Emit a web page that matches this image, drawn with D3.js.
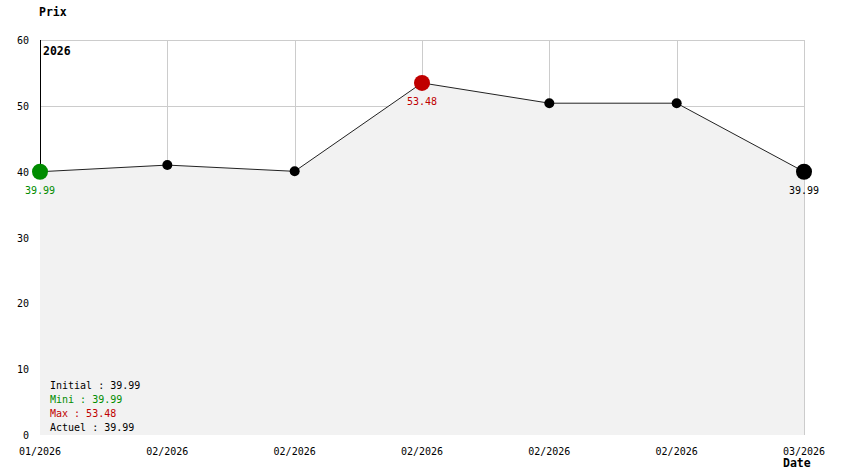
<!DOCTYPE html>
<html>
  <head>
    <meta charset="UTF-8" />
    <title></title>
    <style>
      body { margin: 0; background: #fff; }
      text { font-family: 'DejaVu Sans Mono', monospace; font-size: 10px; }
      .bold { font-weight: bold; font-size: 11.5px; }
    </style>
    <script src="https://d3js.org/d3.v7.min.js"></script>
  </head>
  <body>
    <div id="viz"></div>
    <script>
      const dates = ['01/2026', '02/2026', '02/2026', '02/2026', '02/2026', '02/2026', '03/2026'];
      const prices = [39.99, 41.0, 40.05, 53.48, 50.4, 50.4, 39.99];
      const yTicks = [0, 10, 20, 30, 40, 50, 60];
      const legendLabels = ['Initial', 'Mini', 'Max', 'Actuel'];
      const legendValues = [39.99, 39.99, 53.48, 39.99];
      const legendColors = ['#000', '#008c00', '#c00000', '#000'];

      const width = 844, height = 474;
      const margin = { left: 40, right: 40, top: 40, bottom: 39 };
      const innerW = width - margin.left - margin.right;
      const innerH = height - margin.top - margin.bottom;

      const svg = d3.select('#viz').append('svg')
        .attr('width', width).attr('height', height);
      const g = svg.append('g')
        .attr('transform', `translate(${margin.left},${margin.top})`);

      const x = d3.scaleLinear().domain([0, prices.length - 1]).range([0, innerW]);
      const y = d3.scaleLinear().domain([0, 60]).range([innerH, 0]);

      // grid
      g.selectAll('.hgrid').data(yTicks.filter(d => d > 0)).join('line')
        .attr('x1', 0).attr('x2', innerW)
        .attr('y1', d => Math.round(y(d)) + 0.5).attr('y2', d => Math.round(y(d)) + 0.5)
        .attr('stroke', '#ccc');
      g.selectAll('.vgrid').data(prices.map((d, i) => i).slice(1)).join('line')
        .attr('x1', i => Math.round(x(i)) + 0.5).attr('x2', i => Math.round(x(i)) + 0.5)
        .attr('y1', 0).attr('y2', innerH)
        .attr('stroke', '#ccc');
      // left axis line
      g.append('line').attr('x1', 0.5).attr('x2', 0.5).attr('y1', 0).attr('y2', innerH)
        .attr('stroke', '#000');

      // area
      const area = d3.area().x((d, i) => x(i)).y0(innerH).y1(d => y(d));
      g.append('path').datum(prices).attr('d', area).attr('fill', '#f2f2f2');
      const line = d3.line().x((d, i) => x(i)).y(d => y(d));
      g.append('path').datum(prices).attr('d', line)
        .attr('fill', 'none').attr('stroke', '#222').attr('stroke-width', 1);

      const minV = d3.min(prices), maxV = d3.max(prices);
      const iMin = prices.indexOf(minV), iMax = prices.indexOf(maxV);
      const last = prices.length - 1;

      g.selectAll('circle').data(prices).join('circle')
        .attr('cx', (d, i) => x(i)).attr('cy', d => y(d))
        .attr('r', (d, i) => (i === iMin || i === iMax || i === last) ? 8 : 5)
        .attr('fill', (d, i) => i === iMin ? '#008c00' : i === iMax ? '#c00000' : '#000');

      // value labels
      const lab = [[iMin, '#008c00'], [iMax, '#c00000'], [last, '#000']];
      g.selectAll('.vlab').data(lab).join('text')
        .attr('x', d => x(d[0])).attr('y', d => y(prices[d[0]]) + 22)
        .attr('text-anchor', 'middle').attr('fill', d => d[1])
        .text(d => prices[d[0]].toFixed(2));

      // y ticks
      g.selectAll('.ytick').data(yTicks).join('text')
        .attr('x', -11).attr('y', d => y(d) + 4)
        .attr('text-anchor', 'end').text(d => d);
      // x ticks
      g.selectAll('.xtick').data(dates).join('text')
        .attr('x', (d, i) => x(i)).attr('y', innerH + 20)
        .attr('text-anchor', 'middle').text(d => d);

      svg.append('text').attr('class', 'bold').attr('x', 39).attr('y', 16).text('Prix');
      svg.append('text').attr('class', 'bold').attr('x', 783).attr('y', 467).text('Date');
      svg.append('text').attr('class', 'bold').attr('x', 43).attr('y', 55).text('2026');

      svg.selectAll('.leg').data(legendLabels).join('text')
        .attr('x', 50).attr('y', (d, i) => 389 + i * 14)
        .attr('fill', (d, i) => legendColors[i])
        .text((d, i) => `${d} : ${legendValues[i].toFixed(2)}`);
    </script>
  </body>
</html>
